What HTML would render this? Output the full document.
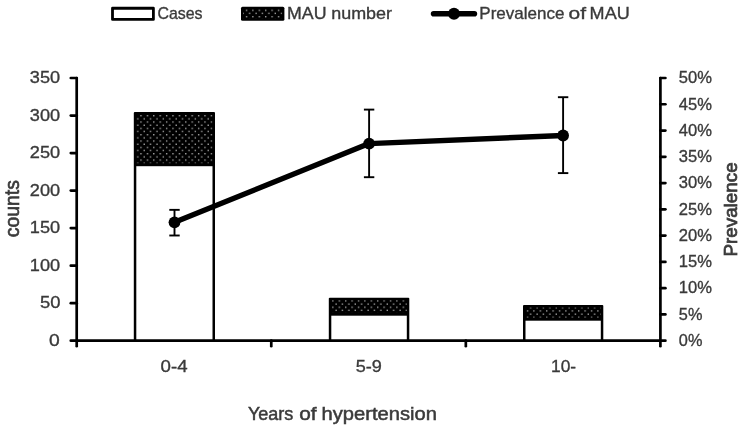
<!DOCTYPE html>
<html><head><meta charset="utf-8"><title>Chart</title>
<style>
html,body{margin:0;padding:0;background:#fff;}
svg{display:block}
text{font-family:"Liberation Sans", sans-serif;fill:#3a3a3a;stroke:#3a3a3a;stroke-width:0.35px;}
</style></head><body>
<svg width="744" height="431" viewBox="0 0 744 431">
<defs>
<pattern id="d0" x="139.40" y="114.10" width="6.4" height="6.34" patternUnits="userSpaceOnUse"><rect width="6.4" height="6.34" fill="#000"/><rect x="0.95" y="0.95" width="1.3" height="1.3" fill="#fff" opacity="0.7"/><rect x="4.15" y="4.12" width="1.3" height="1.3" fill="#fff" opacity="0.7"/></pattern>
<pattern id="d1" x="337.70" y="299.30" width="6.4" height="6.34" patternUnits="userSpaceOnUse"><rect width="6.4" height="6.34" fill="#000"/><rect x="0.95" y="0.95" width="1.3" height="1.3" fill="#fff" opacity="0.7"/><rect x="4.15" y="4.12" width="1.3" height="1.3" fill="#fff" opacity="0.7"/></pattern>
<pattern id="d2" x="525.90" y="315.70" width="6.4" height="6.34" patternUnits="userSpaceOnUse"><rect width="6.4" height="6.34" fill="#000"/><rect x="0.95" y="0.95" width="1.3" height="1.3" fill="#fff" opacity="0.7"/><rect x="4.15" y="4.12" width="1.3" height="1.3" fill="#fff" opacity="0.7"/></pattern>
<pattern id="d3" x="244.90" y="8.70" width="6.4" height="6.34" patternUnits="userSpaceOnUse"><rect width="6.4" height="6.34" fill="#000"/><rect x="0.95" y="0.95" width="1.3" height="1.3" fill="#fff" opacity="0.7"/><rect x="4.15" y="4.12" width="1.3" height="1.3" fill="#fff" opacity="0.7"/></pattern>
</defs>
<rect width="744" height="431" fill="#fff"/>

<rect x="133.8" y="112.0" width="81.2" height="228.7" fill="#000" rx="1"/>
<rect x="136.3" y="114.5" width="76.2" height="48.7" fill="url(#d0)"/>
<rect x="136.3" y="166.2" width="76.2" height="174.5" fill="#fff"/>
<rect x="328.8" y="297.7" width="80.5" height="43.0" fill="#000" rx="1"/>
<rect x="331.3" y="300.2" width="75.5" height="12.5" fill="url(#d1)"/>
<rect x="331.3" y="315.7" width="75.5" height="25.0" fill="#fff"/>
<rect x="523.0" y="305.0" width="80.3" height="35.7" fill="#000" rx="1"/>
<rect x="525.5" y="307.5" width="75.3" height="10.2" fill="url(#d2)"/>
<rect x="525.5" y="320.7" width="75.3" height="20.0" fill="#fff"/>
<g stroke="#000" stroke-width="2.7" fill="none" stroke-linecap="round">
<line x1="76.7" y1="78.0" x2="76.7" y2="346.2"/>
<line x1="660.4" y1="78.0" x2="660.4" y2="346.2"/>
<line x1="70.8" y1="340.7" x2="665.4" y2="340.7"/>
<line x1="70.8" y1="303.17" x2="76.7" y2="303.17"/>
<line x1="70.8" y1="265.64" x2="76.7" y2="265.64"/>
<line x1="70.8" y1="228.11" x2="76.7" y2="228.11"/>
<line x1="70.8" y1="190.59" x2="76.7" y2="190.59"/>
<line x1="70.8" y1="153.06" x2="76.7" y2="153.06"/>
<line x1="70.8" y1="115.53" x2="76.7" y2="115.53"/>
<line x1="70.8" y1="78.00" x2="76.7" y2="78.00"/>
<line x1="660.4" y1="314.43" x2="665.4" y2="314.43"/>
<line x1="660.4" y1="288.16" x2="665.4" y2="288.16"/>
<line x1="660.4" y1="261.89" x2="665.4" y2="261.89"/>
<line x1="660.4" y1="235.62" x2="665.4" y2="235.62"/>
<line x1="660.4" y1="209.35" x2="665.4" y2="209.35"/>
<line x1="660.4" y1="183.08" x2="665.4" y2="183.08"/>
<line x1="660.4" y1="156.81" x2="665.4" y2="156.81"/>
<line x1="660.4" y1="130.54" x2="665.4" y2="130.54"/>
<line x1="660.4" y1="104.27" x2="665.4" y2="104.27"/>
<line x1="660.4" y1="78.00" x2="665.4" y2="78.00"/>
<line x1="271.27" y1="340.7" x2="271.27" y2="346.2"/>
<line x1="465.83" y1="340.7" x2="465.83" y2="346.2"/>
</g>
<g stroke="#000" stroke-width="1.9" fill="none">
<line x1="174.5" y1="209.85" x2="174.5" y2="235.5"/>
<line x1="169.3" y1="209.85" x2="179.7" y2="209.85"/>
<line x1="169.3" y1="235.5" x2="179.7" y2="235.5"/>
<line x1="369.1" y1="109.6" x2="369.1" y2="177.2"/>
<line x1="363.90000000000003" y1="109.6" x2="374.3" y2="109.6"/>
<line x1="363.90000000000003" y1="177.2" x2="374.3" y2="177.2"/>
<line x1="563.1" y1="97.2" x2="563.1" y2="173.1"/>
<line x1="557.9" y1="97.2" x2="568.3000000000001" y2="97.2"/>
<line x1="557.9" y1="173.1" x2="568.3000000000001" y2="173.1"/>
</g>
<polyline points="174.5,222.3 369.1,143.6 563.1,135.5" stroke="#000" stroke-width="5.4" fill="none" stroke-linejoin="round" stroke-linecap="round"/>
<circle cx="174.5" cy="222.3" r="5.9" fill="#000"/>
<circle cx="369.1" cy="143.6" r="5.9" fill="#000"/>
<circle cx="563.1" cy="135.5" r="5.9" fill="#000"/>
<text x="48.93" y="345.90" font-size="17.4" textLength="10.72" lengthAdjust="spacingAndGlyphs">0</text>
<text x="39.96" y="308.37" font-size="17.4" textLength="20.47" lengthAdjust="spacingAndGlyphs">50</text>
<text x="29.82" y="270.84" font-size="17.4" textLength="30.28" lengthAdjust="spacingAndGlyphs">100</text>
<text x="29.82" y="233.31" font-size="17.4" textLength="30.28" lengthAdjust="spacingAndGlyphs">150</text>
<text x="29.82" y="195.79" font-size="17.4" textLength="30.28" lengthAdjust="spacingAndGlyphs">200</text>
<text x="29.82" y="158.26" font-size="17.4" textLength="30.28" lengthAdjust="spacingAndGlyphs">250</text>
<text x="29.82" y="120.73" font-size="17.4" textLength="30.28" lengthAdjust="spacingAndGlyphs">300</text>
<text x="29.82" y="83.20" font-size="17.4" textLength="30.28" lengthAdjust="spacingAndGlyphs">350</text>
<text x="678.85" y="345.90" font-size="17.4" textLength="23.57" lengthAdjust="spacingAndGlyphs">0%</text>
<text x="678.85" y="319.63" font-size="17.4" textLength="23.57" lengthAdjust="spacingAndGlyphs">5%</text>
<text x="678.84" y="293.46" font-size="17.4" textLength="33.17" lengthAdjust="spacingAndGlyphs">10%</text>
<text x="678.84" y="267.19" font-size="17.4" textLength="33.17" lengthAdjust="spacingAndGlyphs">15%</text>
<text x="678.84" y="240.92" font-size="17.4" textLength="33.17" lengthAdjust="spacingAndGlyphs">20%</text>
<text x="678.84" y="214.65" font-size="17.4" textLength="33.17" lengthAdjust="spacingAndGlyphs">25%</text>
<text x="678.84" y="188.38" font-size="17.4" textLength="33.17" lengthAdjust="spacingAndGlyphs">30%</text>
<text x="678.84" y="162.11" font-size="17.4" textLength="33.17" lengthAdjust="spacingAndGlyphs">35%</text>
<text x="678.84" y="135.84" font-size="17.4" textLength="33.17" lengthAdjust="spacingAndGlyphs">40%</text>
<text x="678.84" y="109.57" font-size="17.4" textLength="33.17" lengthAdjust="spacingAndGlyphs">45%</text>
<text x="678.84" y="83.30" font-size="17.4" textLength="33.17" lengthAdjust="spacingAndGlyphs">50%</text>
<text x="160.55" y="372.00" font-size="17.4" textLength="26.97" lengthAdjust="spacingAndGlyphs">0-4</text>
<text x="355.68" y="372.00" font-size="17.4" textLength="26.14" lengthAdjust="spacingAndGlyphs">5-9</text>
<text x="551.00" y="372.00" font-size="17.4" textLength="25.09" lengthAdjust="spacingAndGlyphs">10-</text>
<text x="247.89" y="420.20" font-size="18.2" textLength="45.45" lengthAdjust="spacingAndGlyphs" style="stroke-width:0.5px">Years</text>
<text x="299.22" y="420.20" font-size="18.2" textLength="17.36" lengthAdjust="spacingAndGlyphs" style="stroke-width:0.5px">of</text>
<text x="321.59" y="420.20" font-size="18.2" textLength="115.34" lengthAdjust="spacingAndGlyphs" style="stroke-width:0.5px">hypertension</text>
<text transform="translate(18.9,236.4) rotate(-90)" x="-0.82" y="0" font-size="19.5" style="stroke-width:0.65px" textLength="57.08" lengthAdjust="spacingAndGlyphs">counts</text>
<text transform="translate(737.0,255.0) rotate(-90)" x="-1.55" y="0" font-size="19" style="stroke-width:0.75px" textLength="94.16" lengthAdjust="spacingAndGlyphs">Prevalence</text>
<rect x="112.5" y="8.25" width="40.9" height="11.15" fill="#fff" stroke="#000" stroke-width="2.8" stroke-linejoin="round"/>
<text x="157.40" y="19.40" font-size="17" textLength="45.15" lengthAdjust="spacingAndGlyphs">Cases</text>
<rect x="241" y="6.85" width="43.4" height="13.8" fill="#000" rx="1.5"/>
<rect x="243.3" y="9.0" width="38.8" height="9.4" fill="url(#d3)"/>
<text x="287.04" y="19.40" font-size="17" textLength="39.43" lengthAdjust="spacingAndGlyphs">MAU</text>
<text x="331.19" y="19.40" font-size="17" textLength="60.79" lengthAdjust="spacingAndGlyphs">number</text>
<line x1="433.6" y1="13.8" x2="474.4" y2="13.8" stroke="#000" stroke-width="5.6" stroke-linecap="round"/>
<circle cx="454.0" cy="13.8" r="6.0" fill="#000"/>
<text x="479.30" y="19.40" font-size="17" textLength="85.14" lengthAdjust="spacingAndGlyphs">Prevalence</text>
<text x="568.61" y="19.40" font-size="17" textLength="17.47" lengthAdjust="spacingAndGlyphs">of</text>
<text x="589.61" y="19.40" font-size="17" textLength="40.08" lengthAdjust="spacingAndGlyphs">MAU</text>
</svg></body></html>
